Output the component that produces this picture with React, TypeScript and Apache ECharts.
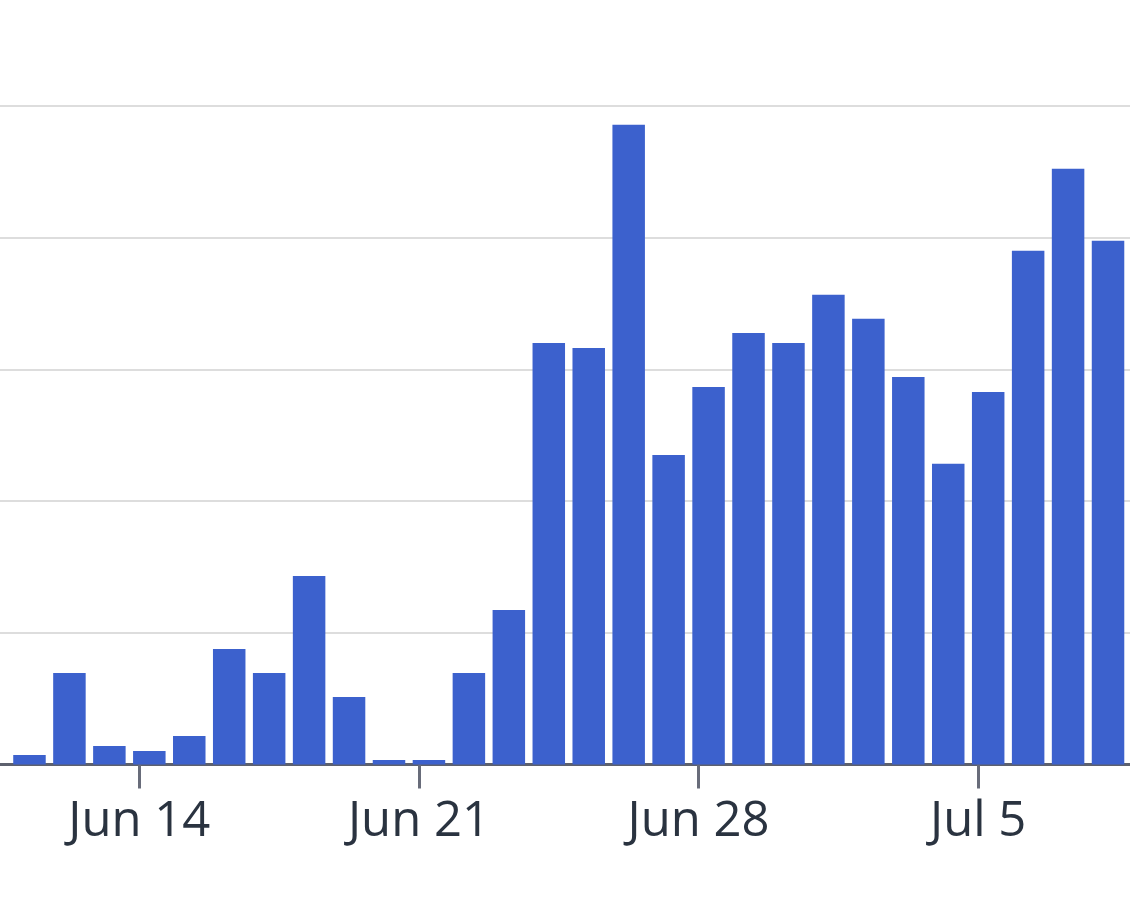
import React, { useEffect, useRef } from "react";
import * as echarts from "echarts";

// Daily dates (2020) and bar values (y unit: 100 per gridline)
const dates = [
  "2020-06-11", "2020-06-12", "2020-06-13", "2020-06-14", "2020-06-15", "2020-06-16",
  "2020-06-17", "2020-06-18", "2020-06-19", "2020-06-20", "2020-06-21", "2020-06-22",
  "2020-06-23", "2020-06-24", "2020-06-25", "2020-06-26", "2020-06-27", "2020-06-28",
  "2020-06-29", "2020-06-30", "2020-07-01", "2020-07-02", "2020-07-03", "2020-07-04",
  "2020-07-05", "2020-07-06", "2020-07-07", "2020-07-08", "2020-07-09",
];
const values = [
  7.2, 69.5, 14.0, 10.3, 21.6, 87.7,
  69.5, 143.1, 51.3, 3.4, 3.4, 69.5,
  117.3, 320.0, 316.2, 485.6, 235.0, 286.6,
  327.6, 320.0, 356.5, 338.3, 294.2, 228.2,
  282.8, 389.9, 452.2, 397.5, 217.5,
];
const tickDates = ["2020-06-14", "2020-06-21", "2020-06-28", "2020-07-05"];
const tickLabels = ["Jun 14", "Jun 21", "Jun 28", "Jul 5"];

const DAY = 86400000;
const ORIGIN = Date.parse(tickDates[0] + "T00:00:00Z");
const BAR_TIME_OFFSET_HOURS = 6;
const toDay = (d: string) => (Date.parse(d + "T00:00:00Z") - ORIGIN) / DAY;

export default function App() {
  const ref = useRef<HTMLDivElement>(null);
  useEffect(() => {
    if (!ref.current) return;
    const chart = echarts.init(ref.current, undefined, { renderer: "svg" });
    const tickVals = tickDates.map(toDay);
    const data = dates.map((d, i) => [toDay(d) + BAR_TIME_OFFSET_HOURS / 24, values[i]]);
    chart.setOption({
      animation: false,
      backgroundColor: "#ffffff",
      grid: { left: 0, right: 0, top: 0, bottom: 149.5, containLabel: false },
      xAxis: {
        type: "value",
        min: -3.488,
        max: 24.8,
        splitLine: { show: false },
        axisLine: { show: true, onZero: true, lineStyle: { color: "#5d616e", width: 3 } },
        axisTick: {
          show: true,
          customValues: tickVals,
          length: 24,
          lineStyle: { color: "#686c7a", width: 3 },
        },
        axisLabel: {
          show: true,
          customValues: tickVals,
          formatter: (v: number) => {
            const i = tickVals.findIndex((t) => Math.abs(t - v) < 1e-6);
            return i >= 0 ? tickLabels[i] : "";
          },
          fontFamily: "Open Sans",
          fontSize: 49,
          color: "#2a3340",
          margin: 28,
        },
      },
      yAxis: {
        type: "value",
        min: 0,
        max: 600,
        interval: 100,
        axisLine: { show: false },
        axisTick: { show: false },
        axisLabel: { show: false },
        splitLine: { show: true, lineStyle: { color: "#dddddd", width: 2 } },
      },
      series: [
        {
          type: "bar",
          data,
          barWidth: 32.5,
          clip: false,
          itemStyle: { color: "#3c61cd" },
        },
      ],
    });
    return () => chart.dispose();
  }, []);
  return (
    <div style={{ position: "fixed", left: 0, top: 0, width: 1130, height: 914, overflow: "hidden" }}>
      <div
        ref={ref}
        style={{ position: "absolute", left: 0, top: -26, width: 1130, height: 940 }}
      />
    </div>
  );
}
